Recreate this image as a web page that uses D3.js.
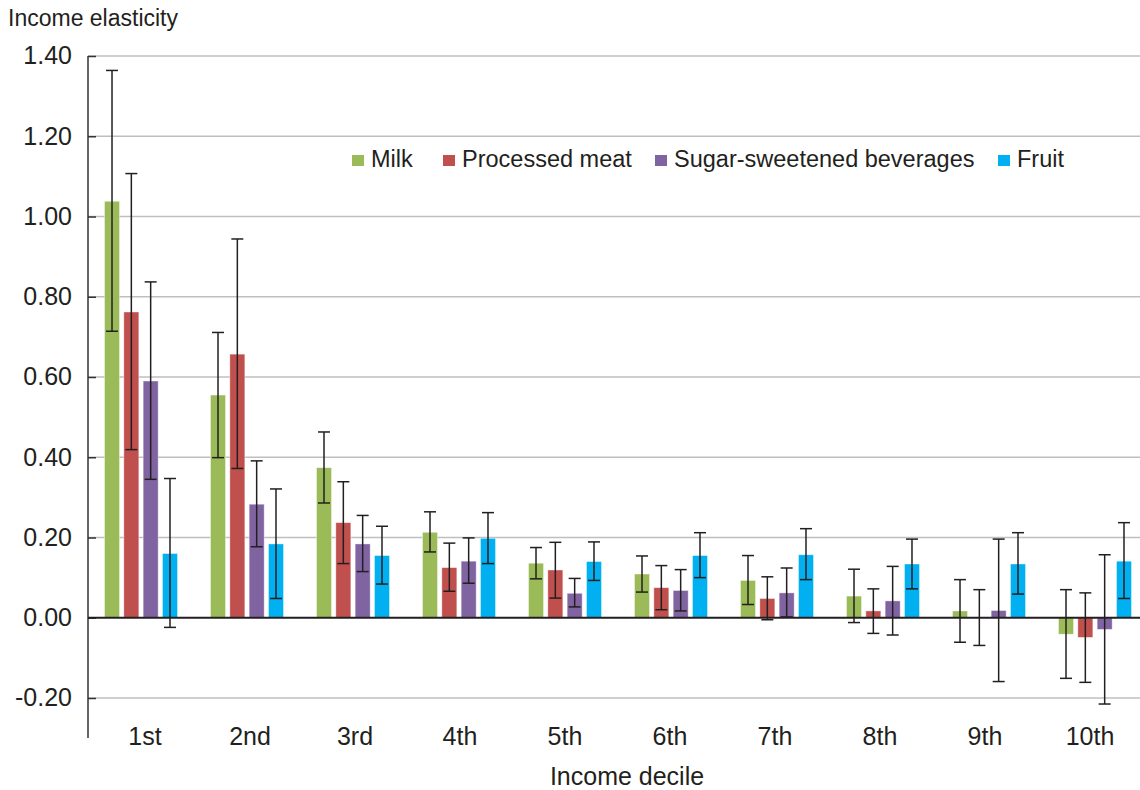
<!DOCTYPE html>
<html>
<head>
<meta charset="utf-8">
<script src="https://cdn.jsdelivr.net/npm/d3@7"></script>
<style>
  body { margin: 0; background: #fff; }
  svg text { font-family: "Liberation Sans", Arial, Helvetica, sans-serif; fill: #231f20; }
</style>
</head>
<body>
<div id="chart"></div>
<script>
// categories and series
const deciles = ["1st", "2nd", "3rd", "4th", "5th", "6th", "7th", "8th", "9th", "10th"];
const seriesNames = ["Milk", "Processed meat", "Sugar-sweetened beverages", "Fruit"];
const yTicks = [-0.2, 0, 0.2, 0.4, 0.6, 0.8, 1.0, 1.2, 1.4];

// elasticities, with error bar ends
const milk     = [1.038, 0.555, 0.374, 0.213, 0.136, 0.109, 0.093, 0.054, 0.017, -0.041];
const milkHi   = [1.364, 0.711, 0.463, 0.264, 0.175, 0.154, 0.155, 0.121, 0.095, 0.070];
const milkLo   = [0.714, 0.399, 0.286, 0.164, 0.097, 0.064, 0.033, -0.012, -0.061, -0.151];
const meat     = [0.762, 0.657, 0.237, 0.125, 0.119, 0.075, 0.048, 0.017, 0.001, -0.049];
const meatHi   = [1.107, 0.944, 0.339, 0.186, 0.188, 0.130, 0.102, 0.072, 0.070, 0.062];
const meatLo   = [0.419, 0.372, 0.135, 0.066, 0.049, 0.020, -0.005, -0.039, -0.069, -0.161];
const ssb      = [0.590, 0.283, 0.184, 0.141, 0.061, 0.068, 0.062, 0.042, 0.018, -0.029];
const ssbHi    = [0.837, 0.391, 0.255, 0.199, 0.098, 0.120, 0.124, 0.128, 0.196, 0.157];
const ssbLo    = [0.345, 0.177, 0.115, 0.086, 0.027, 0.017, 0.002, -0.043, -0.159, -0.215];
const fruit    = [0.160, 0.184, 0.155, 0.198, 0.140, 0.155, 0.157, 0.134, 0.134, 0.141];
const fruitHi  = [0.347, 0.321, 0.228, 0.262, 0.189, 0.212, 0.222, 0.196, 0.212, 0.237];
const fruitLo  = [-0.024, 0.048, 0.084, 0.135, 0.093, 0.100, 0.095, 0.072, 0.059, 0.048];

const colors = ["#9bbb59", "#c0504d", "#8064a2", "#00b0f0"];
const values = [milk, meat, ssb, fruit];
const highs = [milkHi, meatHi, ssbHi, fruitHi];
const lows = [milkLo, meatLo, ssbLo, fruitLo];

// flat table for d3
let rows = [];
deciles.forEach((d, i) => {
	seriesNames.forEach((s, j) => {
		rows.push({decile: d, series: s, v: values[j][i], hi: highs[j][i], lo: lows[j][i], color: colors[j]});
	});
});

let W = 1140, H = 790;
let plot = {left: 88, right: 1148, top: 56, bottom: 698};

let svg = d3.select("#chart").append("svg")
	.attr("width", W)
	.attr("height", H);

let y = d3.scaleLinear().domain([-0.2, 1.4]).range([plot.bottom, plot.top]);
let x0 = d3.scaleBand().domain(deciles).range([plot.left, plot.right]);
let x1 = d3.scaleBand().domain(seriesNames)
	.range([16.5, x0.bandwidth() - 16.5])
	.paddingInner(0.223);
// labels sit on a slightly tighter spacing than the bar groups
let xLab = d3.scalePoint().domain(deciles).range([145, 1090]);

// gridlines
svg.append("g")
	.selectAll("line")
	.data(yTicks.filter(t => t !== 0))
	.enter().append("line")
		.attr("x1", plot.left).attr("x2", W)
		.attr("y1", d => y(d)).attr("y2", d => y(d))
		.attr("stroke", "#bfbfbf")
		.attr("stroke-width", 1.5);

// y axis
let yAxis = svg.append("g")
	.attr("transform", "translate(" + plot.left + ",0)")
	.call(d3.axisRight(y).tickValues(yTicks).tickSize(8).tickFormat(""));
yAxis.select(".domain").remove();
yAxis.selectAll(".tick line").attr("stroke", "#333").attr("stroke-width", 1.5);
svg.append("line")
	.attr("x1", plot.left).attr("x2", plot.left)
	.attr("y1", plot.top).attr("y2", 738)
	.attr("stroke", "#333").attr("stroke-width", 1.5);

svg.append("g").selectAll("text")
	.data(yTicks)
	.enter().append("text")
		.attr("x", 72)
		.attr("y", d => y(d))
		.attr("dy", "0.33em")
		.attr("text-anchor", "end")
		.style("font-size", "25px")
		.text(d => d3.format(".2f")(d).replace("\u2212", "-"));

// bars
let groups = svg.append("g").selectAll("g")
	.data(deciles)
	.enter().append("g")
		.attr("transform", d => "translate(" + x0(d) + ",0)");

groups.selectAll("rect")
	.data(d => rows.filter(r => r.decile === d))
	.enter().append("rect")
		.attr("x", d => x1(d.series))
		.attr("y", d => y(Math.max(0, d.v)))
		.attr("width", x1.bandwidth())
		.attr("height", d => Math.abs(y(d.v) - y(0)))
		.attr("fill", d => d.color)
		.attr("stroke", "#fff")
		.attr("stroke-opacity", 0.5)
		.attr("stroke-width", 0.8);

// zero line
svg.append("line")
	.attr("x1", plot.left).attr("x2", W)
	.attr("y1", y(0)).attr("y2", y(0))
	.attr("stroke", "#231f20")
	.attr("stroke-width", 2);

// error bars
let cap = 6;
let errs = groups.selectAll("g.err")
	.data(d => rows.filter(r => r.decile === d))
	.enter().append("g")
		.attr("class", "err")
		.attr("stroke", "#231f20")
		.attr("stroke-width", 1.5);
errs.append("line")
	.attr("x1", d => x1(d.series) + x1.bandwidth() / 2)
	.attr("x2", d => x1(d.series) + x1.bandwidth() / 2)
	.attr("y1", d => y(d.hi))
	.attr("y2", d => y(d.lo));
errs.append("line")
	.attr("x1", d => x1(d.series) + x1.bandwidth() / 2 - cap)
	.attr("x2", d => x1(d.series) + x1.bandwidth() / 2 + cap)
	.attr("y1", d => y(d.hi))
	.attr("y2", d => y(d.hi));
errs.append("line")
	.attr("x1", d => x1(d.series) + x1.bandwidth() / 2 - cap)
	.attr("x2", d => x1(d.series) + x1.bandwidth() / 2 + cap)
	.attr("y1", d => y(d.lo))
	.attr("y2", d => y(d.lo));

// x labels
svg.append("g").selectAll("text")
	.data(deciles)
	.enter().append("text")
		.attr("x", d => xLab(d))
		.attr("y", 745)
		.attr("text-anchor", "middle")
		.style("font-size", "25px")
		.text(d => d);

// axis titles
svg.append("text")
	.attr("x", 627)
	.attr("y", 785)
	.attr("text-anchor", "middle")
	.style("font-size", "25px")
	.text("Income decile");

svg.append("text")
	.attr("x", 8)
	.attr("y", 26)
	.style("font-size", "23px")
	.text("Income elasticity");

// legend
let legendX = [352, 443, 655, 998];
let legend = svg.append("g").selectAll("g")
	.data(seriesNames)
	.enter().append("g")
		.attr("transform", (d, i) => "translate(" + legendX[i] + ",155)");
legend.append("rect")
	.attr("width", 12)
	.attr("height", 11)
	.attr("fill", (d, i) => colors[i]);
legend.append("text")
	.attr("x", 19)
	.attr("y", 12)
	.style("font-size", "23.5px")
	.text(d => d);
</script>
</body>
</html>
